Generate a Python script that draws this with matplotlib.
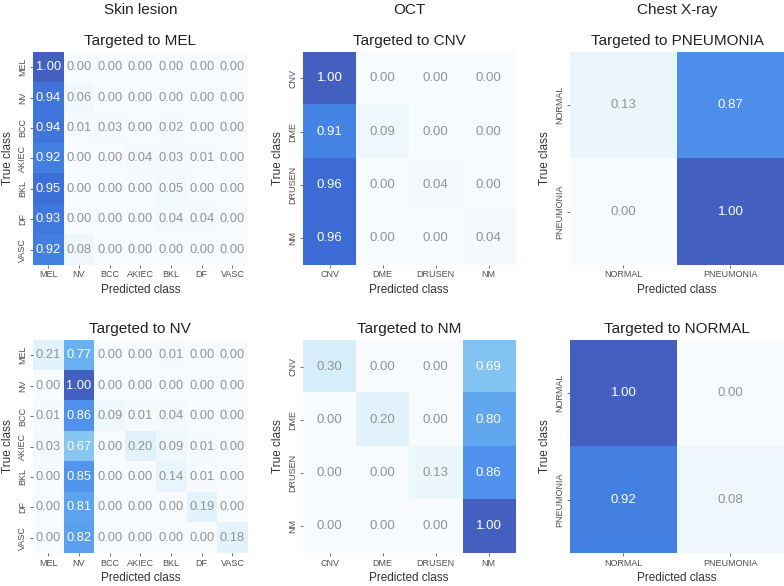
import numpy as np
import matplotlib
matplotlib.use("Agg")
import matplotlib.pyplot as plt
from matplotlib.colors import LinearSegmentedColormap

plt.rcParams['font.family'] = ['Liberation Sans', 'DejaVu Sans']

skin_classes = ["MEL", "NV", "BCC", "AKIEC", "BKL", "DF", "VASC"]
oct_classes = ["CNV", "DME", "DRUSEN", "NM"]
cxr_classes = ["NORMAL", "PNEUMONIA"]

skin_mel = [[1.00, 0.00, 0.00, 0.00, 0.00, 0.00, 0.00],
            [0.94, 0.06, 0.00, 0.00, 0.00, 0.00, 0.00],
            [0.94, 0.01, 0.03, 0.00, 0.02, 0.00, 0.00],
            [0.92, 0.00, 0.00, 0.04, 0.03, 0.01, 0.00],
            [0.95, 0.00, 0.00, 0.00, 0.05, 0.00, 0.00],
            [0.93, 0.00, 0.00, 0.00, 0.04, 0.04, 0.00],
            [0.92, 0.08, 0.00, 0.00, 0.00, 0.00, 0.00]]
skin_nv = [[0.21, 0.77, 0.00, 0.00, 0.01, 0.00, 0.00],
           [0.00, 1.00, 0.00, 0.00, 0.00, 0.00, 0.00],
           [0.01, 0.86, 0.09, 0.01, 0.04, 0.00, 0.00],
           [0.03, 0.67, 0.00, 0.20, 0.09, 0.01, 0.00],
           [0.00, 0.85, 0.00, 0.00, 0.14, 0.01, 0.00],
           [0.00, 0.81, 0.00, 0.00, 0.00, 0.19, 0.00],
           [0.00, 0.82, 0.00, 0.00, 0.00, 0.00, 0.18]]
oct_cnv = [[1.00, 0.00, 0.00, 0.00],
           [0.91, 0.09, 0.00, 0.00],
           [0.96, 0.00, 0.04, 0.00],
           [0.96, 0.00, 0.00, 0.04]]
oct_nm = [[0.30, 0.00, 0.00, 0.69],
          [0.00, 0.20, 0.00, 0.80],
          [0.00, 0.00, 0.13, 0.86],
          [0.00, 0.00, 0.00, 1.00]]
cxr_pneu = [[0.13, 0.87],
            [0.00, 1.00]]
cxr_norm = [[1.00, 0.00],
            [0.92, 0.08]]

cmap = LinearSegmentedColormap.from_list("blues_custom", [
    (0.00, "#f7fbfe"), (0.15, "#e8f5fc"), (0.30, "#d5eefa"),
    (0.55, "#a8d8f6"), (0.70, "#80c2f1"), (0.78, "#66aff0"),
    (0.86, "#5092ee"), (0.92, "#4380e2"), (0.96, "#3c6cd6"),
    (1.00, "#4360c0")])

panels = [
    (skin_mel, skin_classes, "Targeted to MEL", [0.042, 0.548, 0.274, 0.3635], "Skin lesion"),
    (oct_cnv, oct_classes, "Targeted to CNV", [0.3865, 0.548, 0.2705, 0.3635], "OCT"),
    (cxr_pneu, cxr_classes, "Targeted to PNEUMONIA", [0.727, 0.548, 0.273, 0.3635], "Chest X-ray"),
    (skin_nv, skin_classes, "Targeted to NV", [0.042, 0.0563, 0.274, 0.3635], None),
    (oct_nm, oct_classes, "Targeted to NM", [0.3865, 0.0563, 0.2705, 0.3635], None),
    (cxr_norm, cxr_classes, "Targeted to NORMAL", [0.727, 0.0563, 0.273, 0.3635], None),
]

fig = plt.figure(figsize=(7.84, 5.86), dpi=100)

for mat, classes, title, pos, col_title in panels:
    m = np.array(mat)
    n = len(classes)
    ax = fig.add_axes(pos)
    ax.imshow(m, cmap=cmap, vmin=0, vmax=1, aspect="auto", interpolation="nearest")
    for i in range(n):
        for j in range(n):
            v = m[i, j]
            ax.text(j, i, "%.2f" % v, ha="center", va="center",
                    fontsize=9.5 if n < 7 else 9.3,
                    color="white" if v > 0.5 else "#939393")
    ax.set_xticks(range(n))
    ax.set_yticks(range(n))
    ax.set_xticklabels(classes, fontsize=6.5, color="#505050")
    ax.set_yticklabels(classes, fontsize=6.5, color="#505050", rotation=90, va="center")
    ax.tick_params(length=2.5, width=0.6, color="#555555", pad=1.5)
    for s in ax.spines.values():
        s.set_visible(False)
    ax.set_xlabel("Predicted class", fontsize=8.5, color="#333333", labelpad=3)
    ax.set_ylabel("True class", fontsize=8.5, color="#333333", labelpad=3)
    ax.set_title(title, fontsize=11, color="#222222", pad=5)
    if col_title:
        fig.text(pos[0] + pos[2] / 2, 1 - 10 / 586, col_title, ha="center", va="center",
                 fontsize=11, color="#222222")

fig.savefig("out.png", dpi=100)
